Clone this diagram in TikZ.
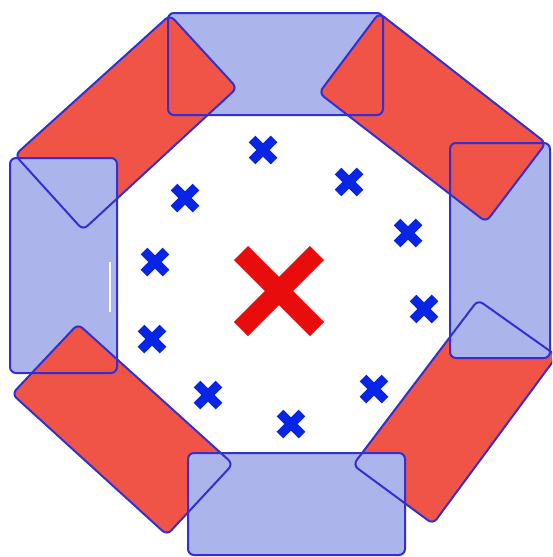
\documentclass[tikz,border=0pt]{standalone}
\usetikzlibrary{calc}
\definecolor{padblue}{RGB}{172,180,236}
\definecolor{padred}{RGB}{240,84,70}
\definecolor{rimblue}{RGB}{50,48,210}
\definecolor{markblue}{RGB}{8,36,228}
\definecolor{markred}{RGB}{232,12,12}
\tikzset{pad/.style={rounded corners=6pt},
  rim/.style={draw=rimblue, line width=2pt, rounded corners=6pt},
  smallx/.style={draw=markblue, line width=9.5pt},
  bigx/.style={draw=markred, line width=20pt}}
% corners of the pads, listed in stacking order
\def\padlist{
  padblue/{168,13}/{383,13}/{383,115}/{168,115},
  padred/{15,155}/{170,15}/{237,88}/{83,230},
  padblue/{10,158}/{117,158}/{117,373}/{10,373},
  padred/{78,324}/{233,464}/{167,535}/{12,394},
  padred/{478,300}/{557,356}/{433,524}/{353,465},
  padblue/{188,453}/{405,453}/{405,555}/{188,555},
  padblue/{450,143}/{550,143}/{550,358}/{450,358},
  padred/{379,13}/{546,143}/{486,222}/{319,93}}

\begin{document}
\begin{tikzpicture}[x=1pt,y=-1pt]
  \useasboundingbox (0,0) rectangle (552,557);
  \begin{scope}
    \clip (0,0) rectangle (552,557);
    % fills first
    \foreach \col/\p/\q/\r/\s in \padlist
      \fill[pad, fill=\col] (\p) -- (\q) -- (\r) -- (\s) -- cycle;
    % then every rim on top
    \foreach \col/\p/\q/\r/\s in \padlist
      \draw[rim] (\p) -- (\q) -- (\r) -- (\s) -- cycle;
  \end{scope}
  \draw[white, line width=1.6pt] (110,262) -- (110,312);
  % ring of small marks
  \foreach \p in {{263,150},{349,182},{408,233},{424,309},{374,389},
                  {291,424},{208,395},{152,339},{155,262},{185,198}}
    \draw[smallx] (\p) ++(-11,-11) -- ++(22,22) (\p) ++(-11,11) -- ++(22,-22);
  % centre mark
  \coordinate (mid) at (279,291);
  \draw[bigx] (mid) ++(-38,-38) -- ++(76,76) (mid) ++(-38,38) -- ++(76,-76);
\end{tikzpicture}
\end{document}
